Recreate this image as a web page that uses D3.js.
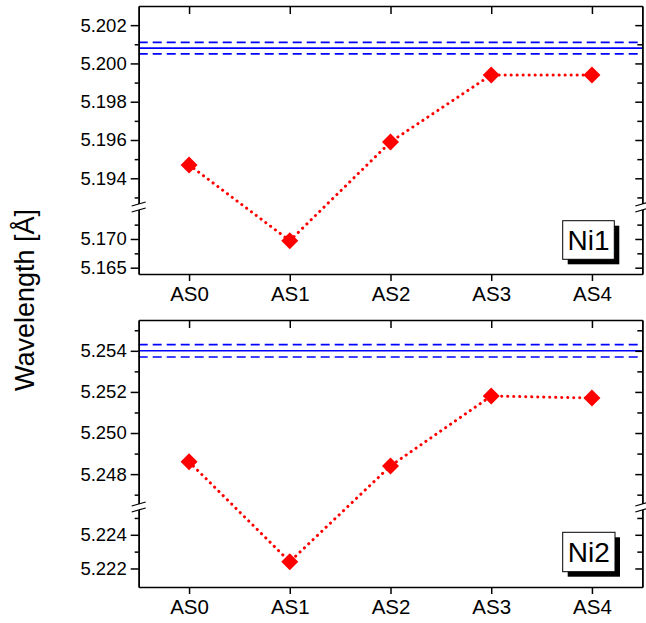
<!DOCTYPE html>
<html>
<head>
<meta charset="utf-8">
<script src="https://cdn.jsdelivr.net/npm/d3@7"></script>
<style>
  body { margin: 0; background: #fff; }
  svg { font-family: "Liberation Sans", Arial, sans-serif; }
</style>
</head>
<body>
<div id="chart"></div>
<script>
var categories = ["AS0", "AS1", "AS2", "AS3", "AS4"];

// Ni1 panel
var ni1Values = [5.1947, 5.1697, 5.1959, 5.1994, 5.1994];
var ni1Ref = 5.2008, ni1RefErr = 0.0003;
var ni1UpperTicks = [5.194, 5.196, 5.198, 5.200, 5.202];
var ni1UpperMinor = [5.193, 5.195, 5.197, 5.199, 5.201];
var ni1LowerTicks = [5.165, 5.170];
var ni1LowerMinor = [5.1675, 5.1725];

// Ni2 panel
var ni2Values = [5.2486, 5.2224, 5.2484, 5.2518, 5.2517];
var ni2Ref = 5.2540, ni2RefErr = 0.0003;
var ni2UpperTicks = [5.248, 5.250, 5.252, 5.254];
var ni2UpperMinor = [5.247, 5.249, 5.251, 5.253, 5.255];
var ni2LowerTicks = [5.222, 5.224];
var ni2LowerMinor = [5.223, 5.225];

var width = 646, height = 623;
var left = 138.7, right = 642.3;

var svg = d3.select("#chart").append("svg")
    .attr("width", width)
    .attr("height", height);

var x = d3.scaleLinear().domain([-0.5, 4.5]).range([left, right]);
var fmt = d3.format(".3f");

var panels = [
    { name: "Ni1", values: ni1Values, ref: ni1Ref, err: ni1RefErr,
      top: 6, bottom: 274, brk: 207,
      upDomain: [5.1925, 5.2030], loDomain: [5.1639, 5.17557],
      upTicks: ni1UpperTicks, upMinor: ni1UpperMinor,
      loTicks: ni1LowerTicks, loMinor: ni1LowerMinor,
      box: [562.7, 220.7, 51.6, 38.6] },
    { name: "Ni2", values: ni2Values, ref: ni2Ref, err: ni2RefErr,
      top: 320, bottom: 587, brk: 507,
      upDomain: [5.2464, 5.2555], loDomain: [5.2209, 5.22565],
      upTicks: ni2UpperTicks, upMinor: ni2UpperMinor,
      loTicks: ni2LowerTicks, loMinor: ni2LowerMinor,
      box: [562.7, 532.3, 52.3, 39.4] }
];

panels.forEach(function (p) {
    var g = svg.append("g");
    var yUp = d3.scaleLinear().domain(p.upDomain).range([p.brk, p.top]);
    var yLo = d3.scaleLinear().domain(p.loDomain).range([p.bottom, p.brk]);
    var lowMax = p.loDomain[1];
    function y(v) { return v <= lowMax ? yLo(v) : yUp(v); }

    // reference lines
    [[p.ref, null], [p.ref - p.err, "9,5"], [p.ref + p.err, "9,5"]].forEach(function (r) {
        g.append("line")
            .attr("x1", left).attr("x2", right)
            .attr("y1", yUp(r[0])).attr("y2", yUp(r[0]))
            .attr("stroke", "#0000ff")
            .attr("stroke-width", 1.6)
            .attr("stroke-dasharray", r[1]);
    });

    // dotted connecting line
    g.append("path")
        .datum(p.values)
        .attr("d", d3.line().x(function (d, i) { return x(i); }).y(function (d) { return y(d); }))
        .attr("fill", "none")
        .attr("stroke", "#ff0000")
        .attr("stroke-width", 3)
        .attr("stroke-linecap", "round")
        .attr("stroke-dasharray", "0.1,5.9");

    // diamonds
    g.selectAll(".pt").data(p.values).enter().append("path")
        .attr("class", "pt")
        .attr("transform", function (d, i) { return "translate(" + x(i) + "," + y(d) + ")"; })
        .attr("d", "M0,-8.5L8.5,0L0,8.5L-8.5,0Z")
        .attr("fill", "#ff0000");

    // axes
    function styleAxis(sel, size) {
        sel.selectAll(".domain").attr("stroke", "#000").attr("stroke-width", 1.5);
        sel.selectAll(".tick line").attr("stroke", "#000").attr("stroke-width", 1.5);
        sel.selectAll("text").attr("font-size", size || 18).attr("fill", "#000")
            .style("font-family", "'Liberation Sans', Arial, sans-serif");
    }

    [[yUp, p.upTicks, p.upMinor], [yLo, p.loTicks, p.loMinor]].forEach(function (s) {
        g.append("g").attr("transform", "translate(" + left + ",0)")
            .call(d3.axisLeft(s[0]).tickValues(s[1]).tickSize(8).tickSizeOuter(0).tickPadding(4).tickFormat(fmt))
            .call(styleAxis, 18.5);
        g.append("g").attr("transform", "translate(" + left + ",0)")
            .call(d3.axisLeft(s[0]).tickValues(s[2]).tickSize(4).tickSizeOuter(0).tickFormat(""))
            .call(styleAxis);
        g.append("g").attr("transform", "translate(" + right + ",0)")
            .call(d3.axisRight(s[0]).tickValues(s[1]).tickSize(-7).tickSizeOuter(0).tickFormat(""))
            .call(styleAxis);
        g.append("g").attr("transform", "translate(" + right + ",0)")
            .call(d3.axisRight(s[0]).tickValues(s[2]).tickSize(-5).tickSizeOuter(0).tickFormat(""))
            .call(styleAxis);
    });

    g.append("g").attr("transform", "translate(0," + p.bottom + ")")
        .call(d3.axisBottom(x).tickValues(d3.range(categories.length)).tickSize(7).tickSizeOuter(0).tickPadding(5)
            .tickFormat(function (i) { return categories[i]; }))
        .call(styleAxis, 20.5);
    g.append("g").attr("transform", "translate(0," + p.top + ")")
        .call(d3.axisTop(x).tickValues(d3.range(categories.length)).tickSize(-8).tickSizeOuter(0).tickFormat(""))
        .call(styleAxis);

    // axis breaks
    [left, right].forEach(function (ax) {
        var b = g.append("g").attr("transform", "translate(" + ax + "," + p.brk + ")");
        b.append("path").attr("d", "M-7,0L7,-4L7,2L-7,6Z").attr("fill", "#fff").attr("transform", "translate(0,-1)");
        b.append("line").attr("x1", -7).attr("y1", -1).attr("x2", 7).attr("y2", -5)
            .attr("stroke", "#000").attr("stroke-width", 1.3);
        b.append("line").attr("x1", -7).attr("y1", 5).attr("x2", 7).attr("y2", 1)
            .attr("stroke", "#000").attr("stroke-width", 1.3);
    });

    // label box with shadow
    var bx = p.box;
    g.append("rect").attr("x", bx[0] + 5).attr("y", bx[1] + 5)
        .attr("width", bx[2]).attr("height", bx[3]).attr("fill", "#000");
    g.append("rect").attr("x", bx[0]).attr("y", bx[1])
        .attr("width", bx[2]).attr("height", bx[3])
        .attr("fill", "#fff").attr("stroke", "#000").attr("stroke-width", 1);
    g.append("text")
        .attr("x", bx[0] + bx[2] / 2).attr("y", bx[1] + bx[3] / 2 + 10)
        .attr("text-anchor", "middle")
        .attr("font-size", 28)
        .text(p.name);
});

svg.append("text")
    .attr("transform", "translate(34,300) rotate(-90)")
    .attr("text-anchor", "middle")
    .attr("font-size", 27)
    .text("Wavelength [Å]");
</script>
</body>
</html>
